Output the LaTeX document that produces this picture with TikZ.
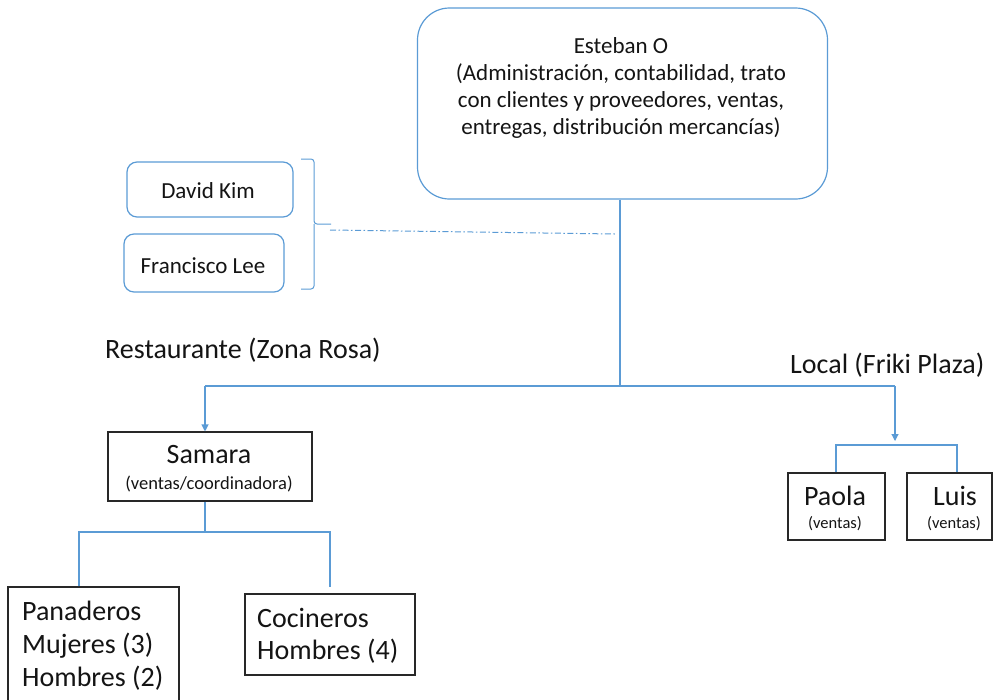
\documentclass[tikz,border=0pt]{standalone}
\usepackage{fontspec}
\setmainfont{Carlito}
\usetikzlibrary{arrows.meta}
\definecolor{lineblue}{RGB}{91,155,213}
\definecolor{txt}{RGB}{20,20,20}
\definecolor{boxline}{RGB}{40,40,40}
\begin{document}
\begin{tikzpicture}[x=1pt,y=-1pt,
  bluebox/.style={draw=lineblue, line width=1.2pt, rounded corners=#1, inner sep=0pt},
  blackbox/.style={draw=boxline, line width=1.1pt, inner sep=0pt},
  conn/.style={draw=lineblue, line width=1.1pt},
  arr/.style={conn, -{Triangle[width=7pt,length=7pt]}},
  bigtxt/.style={font=\fontsize{28}{33}\selectfont, text=txt, inner sep=0pt},
  midtxt/.style={font=\fontsize{23}{27}\selectfont, text=txt, inner sep=0pt},
  smalltxt/.style={font=\fontsize{16.5}{20}\selectfont, text=txt, inner sep=0pt},
]
\useasboundingbox (0,0) rectangle (993,699);

% boxes
\node[bluebox=32, minimum width=410pt, minimum height=191pt] (esteban) at (622.5,103.5) {};
\node[midtxt, anchor=base] (estebantxt) at (621,53) {\begin{tabular}[t]{@{}c@{}}Esteban O\\(Administración, contabilidad, trato\\con clientes y proveedores, ventas,\\entregas, distribución mercancías)\end{tabular}};

\node[bluebox=10, minimum width=166pt, minimum height=55pt] (david) at (210,189.5) {};
\node[midtxt, anchor=base] (davidtxt) at (208,198) {David Kim};
\node[bluebox=10, minimum width=160pt, minimum height=58pt] (francisco) at (204,263) {};
\node[midtxt, anchor=base] (franciscotxt) at (203,273) {Francisco Lee};

\node[bigtxt, anchor=base west] (restaurante) at (105,358) {Restaurante (Zona Rosa)};
\node[bigtxt, anchor=base west] (local) at (790,373) {Local (Friki Plaza)};

\node[blackbox, minimum width=204pt, minimum height=69pt] (samara) at (210,466.5) {};
\node[bigtxt, anchor=base] (samaratxt) at (209,463) {Samara};
\node[font=\fontsize{18.5}{20}\selectfont, text=txt, inner sep=0pt, anchor=base] (samarasub) at (209,489) {(ventas/coordinadora)};

\node[blackbox, minimum width=97pt, minimum height=67pt] (paola) at (836.5,506.5) {};
\node[bigtxt, anchor=base] (paolatxt) at (835,505) {Paola};
\node[smalltxt, anchor=base] (paolasub) at (835,528) {(ventas)};

\node[blackbox, minimum width=85pt, minimum height=67pt] (luis) at (949.5,506.5) {};
\node[bigtxt, anchor=base] (luistxt) at (955,505) {Luis};
\node[smalltxt, anchor=base] (luissub) at (954,528) {(ventas)};

\node[blackbox, minimum width=171pt, minimum height=140pt] (panaderos) at (93.5,657) {};
\node[bigtxt, anchor=base west] (panaderostxt) at (22,620) {\begin{tabular}[t]{@{}l@{}}Panaderos\\Mujeres (3)\\Hombres (2)\end{tabular}};

\node[blackbox, minimum width=170pt, minimum height=81pt] (cocineros) at (330,634.5) {};
\node[font=\fontsize{28}{32.5}\selectfont, text=txt, inner sep=0pt, anchor=base west] (cocinerostxt) at (257,627) {\begin{tabular}[t]{@{}l@{}}Cocineros\\Hombres (4)\end{tabular}};

% connectors
\coordinate (hub) at (620,386);
\coordinate (lefthub) at (205,386);
\coordinate (righthub) at (895,386);
\coordinate (localtip) at (895,441);
\coordinate (pl) at (836,445);
\coordinate (ll) at (957,445);
\coordinate (sb) at (205,532);
\coordinate (pb) at (79,532);
\coordinate (cb) at (330,532);
\coordinate (cbend) at (330,587);

\draw[conn] (esteban.south -| hub) -- (hub);
\draw[conn] (lefthub) -- (righthub);
\draw[arr] (lefthub) -- (samara.north -| lefthub);
\draw[arr] (righthub) -- (localtip);
\draw[conn] (pl |- paola.north) -- (pl) -- (ll) -- (ll |- luis.north);
\draw[conn] (samara.south -| sb) -- (sb);
\draw[conn] (pb |- panaderos.north) -- (pb) -- (cb) -- (cbend);

% bracket and dash-dot link
\coordinate (brtop) at (301,159);
\coordinate (brmid) at (314,224);
\coordinate (brtick) at (331,224);
\coordinate (brbot) at (301,289);
\coordinate (dashstart) at (330,230);
\coordinate (dashend) at (615,234);
\draw[conn, line width=1pt, rounded corners=3pt] (brtop) -| (brmid) -- (brtick);
\draw[conn, line width=1pt, rounded corners=3pt] (brmid) |- (brbot);
\draw[lineblue, line width=1pt, dash pattern=on 6pt off 2.5pt on 1.5pt off 2.5pt] (dashstart) -- (dashend);
\end{tikzpicture}
\end{document}
